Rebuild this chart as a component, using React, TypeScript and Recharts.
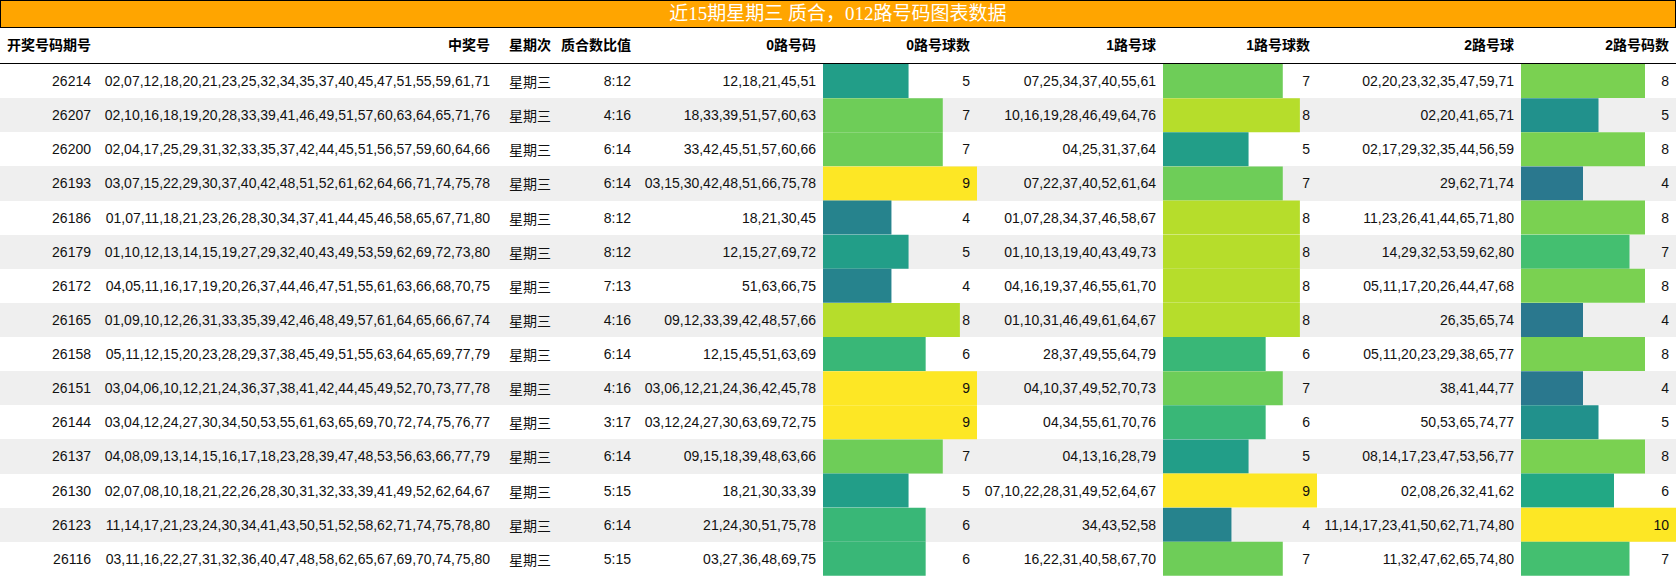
import React from "react";
import { BarChart, Bar, XAxis, YAxis, Cell, LabelList } from "recharts";

const TITLE = "近15期星期三 质合，012路号码图表数据";
const HEADERS = ["开奖号码期号", "中奖号", "星期次", "质合数比值", "0路号码", "0路号球数", "1路号球", "1路号球数", "2路号球", "2路号码数"];

const ISSUES = ["26214", "26207", "26200", "26193", "26186", "26179", "26172", "26165", "26158", "26151", "26144", "26137", "26130", "26123", "26116"];
const WIN_NUMS = [
  "02,07,12,18,20,21,23,25,32,34,35,37,40,45,47,51,55,59,61,71",
  "02,10,16,18,19,20,28,33,39,41,46,49,51,57,60,63,64,65,71,76",
  "02,04,17,25,29,31,32,33,35,37,42,44,45,51,56,57,59,60,64,66",
  "03,07,15,22,29,30,37,40,42,48,51,52,61,62,64,66,71,74,75,78",
  "01,07,11,18,21,23,26,28,30,34,37,41,44,45,46,58,65,67,71,80",
  "01,10,12,13,14,15,19,27,29,32,40,43,49,53,59,62,69,72,73,80",
  "04,05,11,16,17,19,20,26,37,44,46,47,51,55,61,63,66,68,70,75",
  "01,09,10,12,26,31,33,35,39,42,46,48,49,57,61,64,65,66,67,74",
  "05,11,12,15,20,23,28,29,37,38,45,49,51,55,63,64,65,69,77,79",
  "03,04,06,10,12,21,24,36,37,38,41,42,44,45,49,52,70,73,77,78",
  "03,04,12,24,27,30,34,50,53,55,61,63,65,69,70,72,74,75,76,77",
  "04,08,09,13,14,15,16,17,18,23,28,39,47,48,53,56,63,66,77,79",
  "02,07,08,10,18,21,22,26,28,30,31,32,33,39,41,49,52,62,64,67",
  "11,14,17,21,23,24,30,34,41,43,50,51,52,58,62,71,74,75,78,80",
  "03,11,16,22,27,31,32,36,40,47,48,58,62,65,67,69,70,74,75,80",
];
const WEEKDAY = "星期三";
const RATIOS = ["8:12", "4:16", "6:14", "6:14", "8:12", "8:12", "7:13", "4:16", "6:14", "4:16", "3:17", "6:14", "5:15", "6:14", "5:15"];

const ROAD0_NUMS = [
  "12,18,21,45,51", "18,33,39,51,57,60,63", "33,42,45,51,57,60,66", "03,15,30,42,48,51,66,75,78",
  "18,21,30,45", "12,15,27,69,72", "51,63,66,75", "09,12,33,39,42,48,57,66", "12,15,45,51,63,69",
  "03,06,12,21,24,36,42,45,78", "03,12,24,27,30,63,69,72,75", "09,15,18,39,48,63,66", "18,21,30,33,39",
  "21,24,30,51,75,78", "03,27,36,48,69,75",
];
const ROAD0_COUNTS = [5, 7, 7, 9, 4, 5, 4, 8, 6, 9, 9, 7, 5, 6, 6];

const ROAD1_NUMS = [
  "07,25,34,37,40,55,61", "10,16,19,28,46,49,64,76", "04,25,31,37,64", "07,22,37,40,52,61,64",
  "01,07,28,34,37,46,58,67", "01,10,13,19,40,43,49,73", "04,16,19,37,46,55,61,70", "01,10,31,46,49,61,64,67",
  "28,37,49,55,64,79", "04,10,37,49,52,70,73", "04,34,55,61,70,76", "04,13,16,28,79",
  "07,10,22,28,31,49,52,64,67", "34,43,52,58", "16,22,31,40,58,67,70",
];
const ROAD1_COUNTS = [7, 8, 5, 7, 8, 8, 8, 8, 6, 7, 6, 5, 9, 4, 7];

const ROAD2_NUMS = [
  "02,20,23,32,35,47,59,71", "02,20,41,65,71", "02,17,29,32,35,44,56,59", "29,62,71,74",
  "11,23,26,41,44,65,71,80", "14,29,32,53,59,62,80", "05,11,17,20,26,44,47,68", "26,35,65,74",
  "05,11,20,23,29,38,65,77", "38,41,44,77", "50,53,65,74,77", "08,14,17,23,47,53,56,77",
  "02,08,26,32,41,62", "11,14,17,23,41,50,62,71,74,80", "11,32,47,62,65,74,80",
];
const ROAD2_COUNTS = [8, 5, 8, 4, 8, 7, 8, 4, 8, 4, 5, 8, 6, 10, 7];

// layout
const W = 1676;
const TITLE_H = 28;
const HEAD_H = 36;
const BODY_H = 512;
const ROW_H = BODY_H / ISSUES.length;
const EDGES = [0, 98, 497, 556, 638, 823, 977, 1163, 1317, 1521, 1676];
const BODY_FONT = '"Liberation Sans", Arial, "Noto Sans CJK SC", sans-serif';
const BODY_SIZE = 14;

const VIRIDIS = ["#440154", "#482475", "#414487", "#355f8d", "#2a788e", "#21918c", "#22a884", "#44bf70", "#7ad151", "#bddf26", "#fde725"];
function viridis(t: number) {
  const p = Math.max(0, Math.min(1, t)) * 10;
  const i = Math.min(9, Math.floor(p));
  const f = p - i;
  const a = VIRIDIS[i], b = VIRIDIS[i + 1];
  const ch = (s: string, k: number) => parseInt(s.slice(1 + k * 2, 3 + k * 2), 16);
  const out = [0, 1, 2].map((k) => Math.round(ch(a, k) + (ch(b, k) - ch(a, k)) * f).toString(16).padStart(2, "0"));
  return "#" + out.join("");
}

function CountBars({ counts, left, width }: { counts: number[]; left: number; width: number }) {
  const max = Math.max(...counts);
  const data = counts.map((v, i) => ({ id: ISSUES[i], v }));
  return (
    <div style={{ position: "absolute", left, top: TITLE_H + HEAD_H, width, height: BODY_H }}>
      <BarChart width={width} height={BODY_H} data={data} layout="vertical" barCategoryGap={0} margin={{ top: 0, right: 0, bottom: 0, left: 0 }}>
        <XAxis type="number" domain={[0, max]} hide />
        <YAxis type="category" dataKey="id" hide />
        <Bar dataKey="v" isAnimationActive={false}>
          {data.map((d, i) => (
            <Cell key={i} fill={viridis(d.v / max)} />
          ))}
          <LabelList
            dataKey="v"
            content={(p: any) => (
              <text
                x={width - 7}
                y={Number(p.y) + Number(p.height) / 2}
                textAnchor="end"
                dominantBaseline="central"
                fontFamily={BODY_FONT}
                fontSize={BODY_SIZE}
                fill="#111"
              >
                {p.value}
              </text>
            )}
          />
        </Bar>
      </BarChart>
    </div>
  );
}

export default function App() {
  const textCols: (string[] | null)[] = [
    ISSUES, WIN_NUMS, ISSUES.map(() => WEEKDAY), RATIOS, ROAD0_NUMS, null, ROAD1_NUMS, null, ROAD2_NUMS, null,
  ];
  return (
    <div style={{ position: "absolute", left: 0, top: 0, width: W, height: 576, background: "#fff", overflow: "hidden" }}>
      <div
        style={{
          position: "absolute", left: 0, top: 0, width: W, height: TITLE_H, boxSizing: "border-box",
          border: "1px solid #000", background: "#ffa500", color: "#fff", textAlign: "center",
          fontFamily: '"Liberation Serif", "Noto Sans CJK SC", serif', fontSize: 19, lineHeight: "26px",
        }}
      >
        {TITLE}
      </div>
      <div style={{ position: "absolute", left: 0, top: TITLE_H, width: W, height: HEAD_H, boxSizing: "border-box", borderBottom: "1.5px solid #000" }}>
        {HEADERS.map((h, c) => (
          <div
            key={c}
            style={{
              position: "absolute", left: EDGES[c], width: EDGES[c + 1] - EDGES[c] - 7, top: 0, height: HEAD_H - 1,
              lineHeight: HEAD_H - 1 + "px", textAlign: c === 2 ? "center" : "right", paddingLeft: c === 2 ? 7 : 0,
              fontFamily: '"Liberation Sans", "Noto Sans CJK SC", sans-serif', fontWeight: 700, fontSize: 14, color: "#000",
              whiteSpace: "nowrap",
            }}
          >
            {h}
          </div>
        ))}
      </div>
      {ISSUES.map((_, r) => (
        <div
          key={r}
          style={{
            position: "absolute", left: 0, top: TITLE_H + HEAD_H + r * ROW_H, width: W, height: ROW_H,
            background: r % 2 === 1 ? "#efefef" : "#fff",
          }}
        >
          {textCols.map((col, c) =>
            col ? (
              <div
                key={c}
                style={{
                  position: "absolute", left: EDGES[c], width: EDGES[c + 1] - EDGES[c] - 7, top: 0, height: ROW_H,
                  lineHeight: ROW_H + "px", textAlign: c === 2 ? "center" : "right", paddingLeft: c === 2 ? 7 : 0,
                  fontFamily: c === 2 ? '"Noto Sans CJK SC", sans-serif' : BODY_FONT, fontSize: BODY_SIZE,
                  color: "#111", whiteSpace: "nowrap",
                }}
              >
                {col[r]}
              </div>
            ) : null
          )}
        </div>
      ))}
      <CountBars counts={ROAD0_COUNTS} left={EDGES[5]} width={EDGES[6] - EDGES[5]} />
      <CountBars counts={ROAD1_COUNTS} left={EDGES[7]} width={EDGES[8] - EDGES[7]} />
      <CountBars counts={ROAD2_COUNTS} left={EDGES[9]} width={EDGES[10] - EDGES[9]} />
    </div>
  );
}
